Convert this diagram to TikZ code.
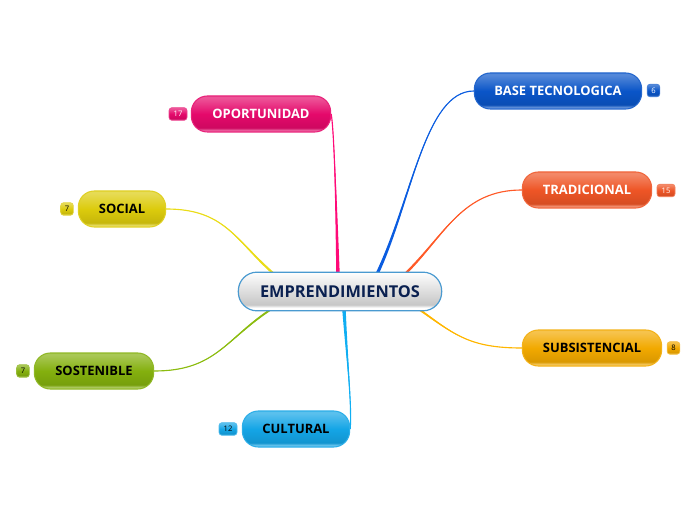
\documentclass[tikz,border=0pt]{standalone}
\usepackage{fontspec}
\setmainfont{Open Sans}
\usetikzlibrary{backgrounds}
\definecolor{cpink}{HTML}{E5096B}
\definecolor{cblue}{HTML}{0A55C8}
\definecolor{corange}{HTML}{EE5526}
\definecolor{cgold}{HTML}{F2A900}
\definecolor{ccyan}{HTML}{14A5E6}
\definecolor{colive}{HTML}{84B00E}
\definecolor{cyell}{HTML}{DCCB0C}
\definecolor{lpink}{HTML}{FF0A78}
\definecolor{lblue}{HTML}{0A5CE0}
\definecolor{lorange}{HTML}{FF5A28}
\definecolor{lgold}{HTML}{FFB600}
\definecolor{lcyan}{HTML}{10AEF2}
\definecolor{lolive}{HTML}{8CBC10}
\definecolor{lyell}{HTML}{EADC18}
\definecolor{cring}{HTML}{4A9AD0}
\definecolor{cnavy}{HTML}{0A2050}
\newcommand{\mkshade}[1]{%
 \pgfdeclareverticalshading{sh#1}{100bp}{%
  color(0bp)=(#1!55!white); color(25bp)=(#1!55!white); color(27bp)=(#1!60!white);
  color(31bp)=(#1!90!black); color(50bp)=(#1); color(72bp)=(#1!70!white);
  color(75bp)=(#1!70!white); color(100bp)=(#1!70!white)}}
\mkshade{cpink}\mkshade{cblue}\mkshade{corange}\mkshade{cgold}\mkshade{ccyan}\mkshade{colive}\mkshade{cyell}
\pgfdeclareverticalshading{shcenter}{100bp}{%
  color(0bp)=(white); color(25bp)=(white); color(29bp)=(white);
  color(33bp)=(black!22); color(70bp)=(black!3); color(75bp)=(white); color(100bp)=(white)}
\newcommand{\taper}[5]{%
  \fill[#1] (#2) .. controls (#3) and ([xshift=0.6pt]#4) .. ([xshift=1.3pt]#5)
     -- ([xshift=-1.3pt]#5) .. controls ([xshift=-0.6pt]#4) and (#3) .. (#2) -- cycle;
  \draw[#1,line width=0.85pt] (#2) .. controls (#3) and (#4) .. (#5);}
\newcommand{\lowtext}[1]{\raisebox{-0.8pt}{#1}}
\tikzset{
 x=0.75pt,y=-0.75pt,
 topic/.style={shape=rectangle,rounded corners=12pt,minimum height=27pt,inner sep=0pt,
   font=\bfseries\fontsize{9.7}{11}\selectfont,shading=sh#1,draw=#1!90!white,line width=0.8pt},
 badge/.style={shape=rectangle,rounded corners=2.2pt,minimum height=9.5pt,inner sep=0pt,
   font=\fontsize{5.7}{6}\selectfont,shading=sh#1,draw=#1!75!white,line width=0.5pt},
}
\begin{document}
\begin{tikzpicture}
\useasboundingbox (0,0) rectangle (696,520);
\node[shape=rectangle,rounded corners=14pt,minimum width=152.5pt,minimum height=29pt,inner sep=0pt,
  shading=shcenter,draw=cring,line width=0.9pt,text=cnavy,font=\bfseries\fontsize{12.25}{14}\selectfont] (center) at (340,291.5) {\lowtext{EMPRENDIMIENTOS}};
\node[topic=cpink,minimum width=104.5pt,text=white] (op) at (261,114) {\lowtext{OPORTUNIDAD}};
\node[topic=cblue,minimum width=125.5pt,text=white] (ba) at (558,91) {\lowtext{BASE TECNOLOGICA}};
\node[topic=corange,minimum width=97pt,text=white] (tr) at (587,190) {\lowtext{TRADICIONAL}};
\node[topic=cgold,minimum width=104.5pt,text=black] (su) at (592,348) {\lowtext{SUBSISTENCIAL}};
\node[topic=ccyan,minimum width=80.5pt,text=black] (cu) at (296,429) {\lowtext{CULTURAL}};
\node[topic=colive,minimum width=89.5pt,text=black] (so) at (94,371) {\lowtext{SOSTENIBLE}};
\node[topic=cyell,minimum width=65.5pt,text=black] (sc) at (122,209) {\lowtext{SOCIAL}};
\node[badge=cpink,minimum width=13.5pt,text=white] (b1) at (178,114) {17};
\node[badge=cblue,minimum width=9.5pt,text=white] (b2) at (653.5,90.5) {6};
\node[badge=corange,minimum width=13.5pt,text=white] (b3) at (666,190.5) {15};
\node[badge=cgold,minimum width=9.5pt,text=black] (b4) at (673.5,348) {8};
\node[badge=cyell,minimum width=9.5pt,text=black] (b5) at (67,209) {7};
\node[badge=colive,minimum width=9.5pt,text=black] (b6) at (23,371) {7};
\node[badge=ccyan,minimum width=13.5pt,text=black] (b7) at (228,429) {12};
\coordinate (jop) at (338,274);
\coordinate (jba) at (377,274);
\coordinate (jtr) at (405,274);
\coordinate (jsu) at (420,310);
\coordinate (jcu) at (344,310);
\coordinate (jso) at (270,310);
\coordinate (jsc) at (274,274);
\begin{pgfonlayer}{background}
\taper{lpink}{op.east}{334,130}{336,200}{jop}
\taper{lblue}{ba.west}{425,91}{412,200}{jba}
\taper{lorange}{tr.west}{462,190}{445,235}{jtr}
\taper{lgold}{su.west}{470,348}{455,335}{jsu}
\taper{lcyan}{cu.east}{352,405}{347,360}{jcu}
\taper{lolive}{so.east}{215,371}{225,340}{jso}
\taper{lyell}{sc.east}{225,209}{235,240}{jsc}
\end{pgfonlayer}
\end{tikzpicture}
\end{document}
